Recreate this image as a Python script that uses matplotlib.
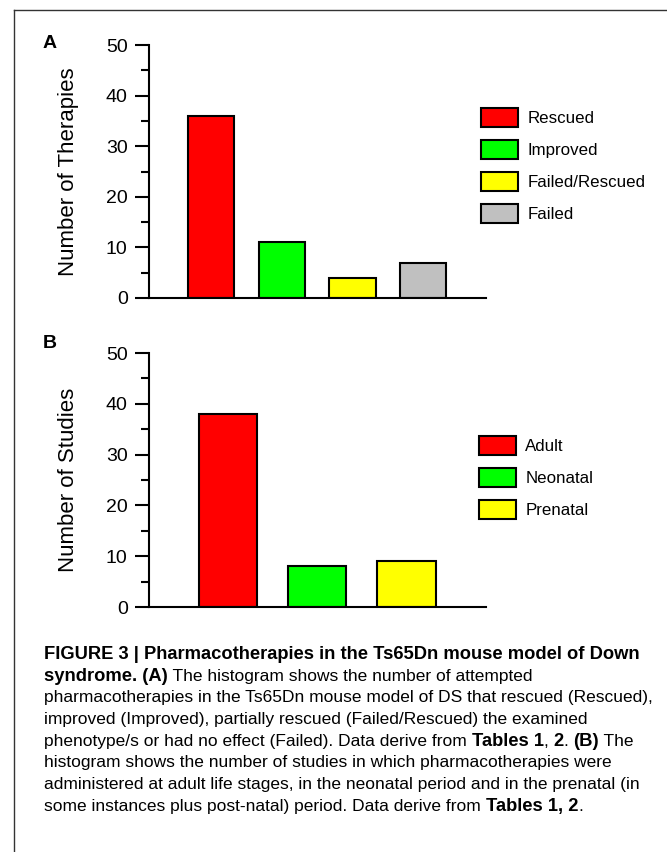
import matplotlib
matplotlib.use("Agg")
import matplotlib.pyplot as plt
from matplotlib.ticker import MultipleLocator

plt.rcParams['font.family'] = ['Liberation Sans', 'DejaVu Sans']

# panel A
cats_a = ["Rescued", "Improved", "Failed/Rescued", "Failed"]
vals_a = [36, 11, 4, 7]
cols_a = ["#ff0000", "#00ff00", "#ffff00", "#c0c0c0"]

# panel B
cats_b = ["Adult", "Neonatal", "Prenatal"]
vals_b = [38, 8, 9]
cols_b = ["#ff0000", "#00ff00", "#ffff00"]

caption = [
    [("FIGURE 3 | Pharmacotherapies in the Ts65Dn mouse model of Down", True)],
    [("syndrome. (A)", True), (" The histogram shows the number of attempted", False)],
    [("pharmacotherapies in the Ts65Dn mouse model of DS that rescued (Rescued),", False)],
    [("improved (Improved), partially rescued (Failed/Rescued) the examined", False)],
    [("phenotype/s or had no effect (Failed). Data derive from ", False), ("Tables 1", True),
     (", ", False), ("2", True), (". ", False), ("(B)", True), (" The", False)],
    [("histogram shows the number of studies in which pharmacotherapies were", False)],
    [("administered at adult life stages, in the neonatal period and in the prenatal (in", False)],
    [("some instances plus post-natal) period. Data derive from ", False), ("Tables 1, 2", True), (".", False)],
]

W, H = 667, 852
fig = plt.figure(figsize=(W / 100, H / 100), dpi=100)

# frame of the figure box
fig.add_artist(plt.Line2D([14 / W, 1], [1 - 10 / H, 1 - 10 / H], color="#333333", lw=1))
fig.add_artist(plt.Line2D([14 / W, 14 / W], [0, 1 - 10 / H], color="#333333", lw=1))


def panel(rect, cats, vals, cols, ylabel, letter, leg_xy, letter_y):
    ax = fig.add_axes(rect)
    x = list(range(len(cats)))
    ax.bar(x, vals, width=0.655, color=cols, edgecolor="black", linewidth=1.5,
           label=cats)
    ax.set_xlim(-0.89, len(cats) - 1 + 0.89)
    ax.set_ylim(0, 50)
    ax.yaxis.set_major_locator(MultipleLocator(10))
    ax.yaxis.set_minor_locator(MultipleLocator(5))
    ax.tick_params(axis="y", which="major", length=10, width=1.5, pad=5, labelsize=14)
    ax.tick_params(axis="y", which="minor", length=6, width=1.5)
    ax.tick_params(axis="x", bottom=False, labelbottom=False)
    for s in ["top", "right"]:
        ax.spines[s].set_visible(False)
    for s in ["left", "bottom"]:
        ax.spines[s].set_linewidth(1.5)
    ax.set_ylabel(ylabel, fontsize=16)
    ax.yaxis.label.set_va("center")
    ax.yaxis.set_label_coords(-0.237, 0.5)
    ax.legend(loc="upper left", bbox_to_anchor=leg_xy, bbox_transform=fig.transFigure,
              frameon=False, fontsize=12.2, handlelength=2.17, handleheight=1.39,
              labelspacing=0.74, handletextpad=0.57, borderpad=0, borderaxespad=0)
    fig.text(50 / W, 1 - letter_y / H, letter, fontsize=14, fontweight="bold",
             ha="center", va="center")
    return ax


panel([148.5 / W, 1 - 298 / H, 337.5 / W, 253 / H], cats_a, vals_a, cols_a,
      "Number of Therapies", "A", (481 / W, 1 - 108 / H), 43)
panel([148.5 / W, 1 - 607 / H, 337.5 / W, 254 / H], cats_b, vals_b, cols_b,
      "Number of Studies", "B", (479 / W, 1 - 436 / H), 343)

# caption with mixed bold runs
renderer = fig.canvas.get_renderer()
y0 = 659
for i, line in enumerate(caption):
    xpix = 44
    for txt, bold in line:
        t = fig.text(xpix / W, 1 - (y0 + i * 21.7) / H, txt,
                     fontsize=13.2 if bold else 12.5,
                     fontweight="bold" if bold else "normal", va="baseline", ha="left")
        bb = t.get_window_extent(renderer)
        xpix += bb.width

fig.savefig("out.png", dpi=100)
